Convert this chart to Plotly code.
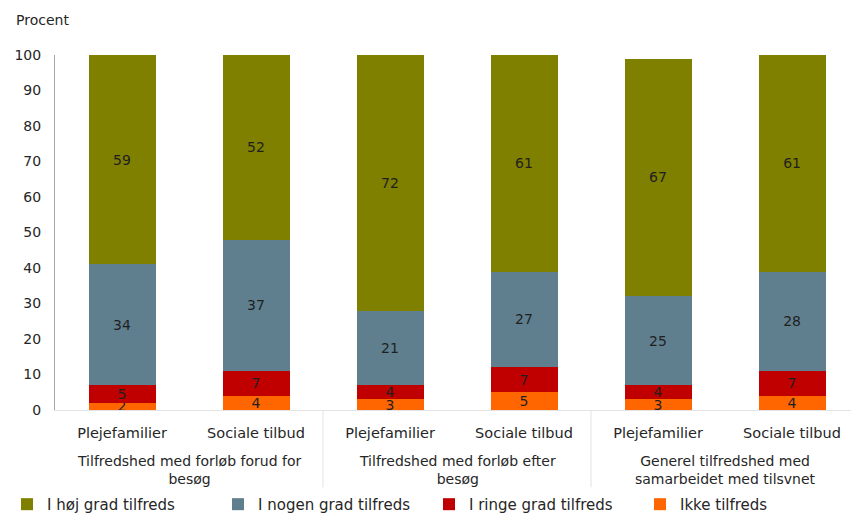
import plotly.graph_objects as go

# Survey categories (two respondent types per question group)
categories = ["Plejefamilier", "Sociale tilbud", "Plejefamilier", "Sociale tilbud",
              "Plejefamilier", "Sociale tilbud"]
groups = ["Tilfredshed med forløb forud for<br>besøg",
          "Tilfredshed med forløb efter<br>besøg",
          "Generel tilfredshed med<br>samarbeidet med tilsvnet"]

# Shares in percent, stacked bottom to top
ikke_tilfreds = [2, 4, 3, 5, 3, 4]
ringe_grad = [5, 7, 4, 7, 4, 7]
nogen_grad = [34, 37, 21, 27, 25, 28]
hoj_grad = [59, 52, 72, 61, 67, 61]

y_ticks = list(range(0, 101, 10))

series = [
    ("I høj grad tilfreds", hoj_grad, "#7f7f00"),
    ("I nogen grad tilfreds", nogen_grad, "#5f7f8f"),
    ("I ringe grad tilfreds", ringe_grad, "#c00000"),
    ("Ikke tilfreds", ikke_tilfreds, "#ff6600"),
]

x = list(range(len(categories)))
font_family = "DejaVu Sans, Verdana, sans-serif"
text_color = "#262626"

fig = go.Figure()
# stack from the bottom segment upward
for name, vals, color in reversed(series):
    fig.add_trace(go.Bar(
        x=x, y=vals, name=name,
        marker=dict(color=color, line=dict(width=0)),
        width=0.5,
        text=vals, texttemplate="%{text}",
        textposition="inside", insidetextanchor="middle", textangle=0,
        textfont=dict(family=font_family, size=14, color="#1f1f1f"),
        hoverinfo="skip",
    ))

# vertical separators between question groups
for xb in [1.5, 3.5]:
    fig.add_shape(type="line", xref="x", yref="paper", x0=xb, x1=xb, y0=0, y1=-0.218,
                  line=dict(color="#e3e3e3", width=1))

# group labels below the category ticks
for i, g in enumerate(groups):
    fig.add_annotation(x=2 * i + 0.5, xref="x", y=-0.17, yref="paper",
                       text=g, showarrow=False, yanchor="middle",
                       font=dict(family=font_family, size=14, color=text_color),
                       align="center")

fig.add_annotation(x=-0.052, xref="paper", xanchor="left", y=1.098, yref="paper",
                   yanchor="middle", text="Procent", showarrow=False,
                   font=dict(family=font_family, size=14, color=text_color))

fig.update_layout(
    width=851, height=521,
    margin=dict(l=55, r=0, t=55, b=109),
    barmode="stack",
    paper_bgcolor="white", plot_bgcolor="white",
    uniformtext=dict(minsize=14, mode="show"),
    font=dict(family=font_family, size=14, color=text_color),
    legend=dict(orientation="h", traceorder="reversed",
                x=-0.046, xanchor="left", y=-0.266, yanchor="middle",
                entrywidth=166, entrywidthmode="pixels",
                itemwidth=30, font=dict(family=font_family, size=15, color=text_color)),
    showlegend=True,
)
fig.update_xaxes(range=[-0.5, 5.44], tickvals=x, ticktext=categories,
                 showgrid=False, showline=True, linecolor="#e3e3e3", ticks="",
                 ticklabelstandoff=10,
                 tickfont=dict(family=font_family, size=14.5, color=text_color))
fig.update_yaxes(range=[0, 100], tickvals=y_ticks, showgrid=False, zeroline=False,
                 showline=True, linecolor="#a6a6a6", ticks="",
                 ticklabelstandoff=10,
                 tickfont=dict(family=font_family, size=14, color=text_color))

fig.write_html("out.html")
